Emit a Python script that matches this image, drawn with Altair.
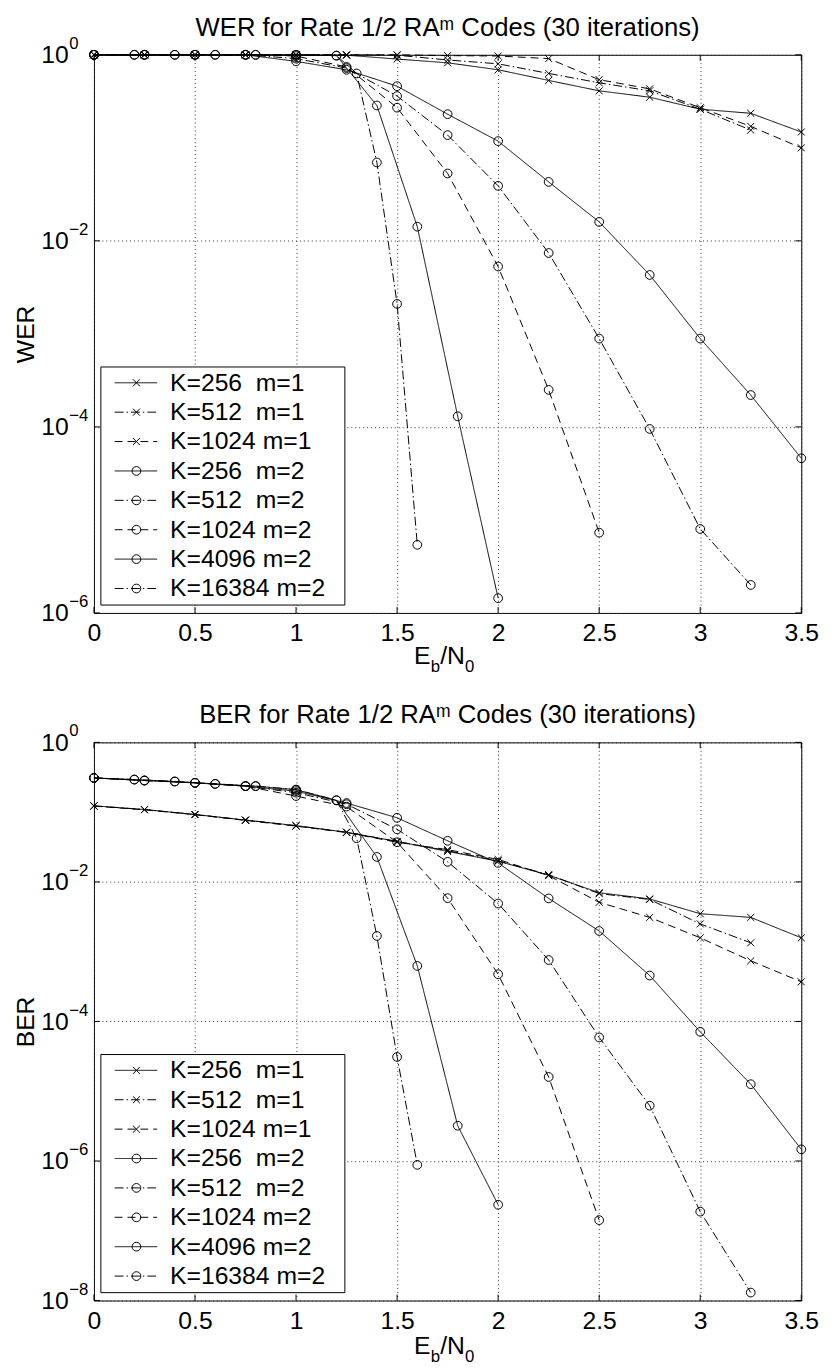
import altair as alt
import pandas as pd

FONT = "Liberation Sans"

# ---------------- data ----------------
series_labels = ["K=256\u00a0\u00a0m=1", "K=512\u00a0\u00a0m=1", "K=1024 m=1",
                 "K=256\u00a0\u00a0m=2", "K=512\u00a0\u00a0m=2", "K=1024 m=2",
                 "K=4096 m=2", "K=16384 m=2"]
series_marker = ["x", "x", "x", "o", "o", "o", "o", "o"]
series_style = ["solid", "dashdot", "dashed", "solid", "dashdot", "dashed", "solid", "dashdot"]

eb_q = [0, 0.25, 0.5, 0.75, 1.0, 1.25, 1.5, 1.75, 2.0, 2.25, 2.5, 2.75, 3.0, 3.25, 3.5]
eb_q_325 = [0, 0.25, 0.5, 0.75, 1.0, 1.25, 1.5, 1.75, 2.0, 2.25, 2.5, 2.75, 3.0, 3.25]
eb_q_25 = [0, 0.25, 0.5, 0.75, 1.0, 1.25, 1.5, 1.75, 2.0, 2.25, 2.5]
eb_fifth = [0, 0.2, 0.4, 0.6, 0.8, 1.0, 1.2, 1.4, 1.6, 1.8, 2.0]
eb_mixed = [0, 0.2, 0.4, 0.6, 0.8, 1.0, 1.2, 1.3, 1.4, 1.5, 1.6]
series_x = [eb_q, eb_q_325, eb_q, eb_q, eb_q_325, eb_q_25, eb_fifth, eb_mixed]

wer_256_m1 = [1, 1, 1, 1, 0.99, 0.99, 0.90, 0.82, 0.69, 0.53, 0.41, 0.35, 0.26, 0.235, 0.148]
wer_512_m1 = [1, 1, 1, 1, 1, 1, 0.99, 0.88, 0.80, 0.63, 0.50, 0.41, 0.26, 0.155]
wer_1024_m1 = [1, 1, 1, 1, 1, 1, 1, 0.98, 0.97, 0.91, 0.54, 0.43, 0.27, 0.17, 0.10]
wer_256_m2 = [1, 1, 1, 1, 0.85, 0.69, 0.46, 0.23, 0.118, 0.043, 0.016, 4.3e-3, 8.9e-4, 2.2e-4, 4.6e-5]
wer_512_m2 = [1, 1, 1, 1, 0.91, 0.72, 0.36, 0.137, 0.039, 7.4e-3, 8.9e-4, 9.5e-5, 8e-6, 2e-6]
wer_1024_m2 = [1, 1, 1, 1, 0.97, 0.74, 0.27, 0.053, 5.3e-3, 2.5e-4, 7.3e-6]
wer_4096_m2 = [1, 1, 1, 1, 1, 1, 0.98, 0.285, 0.0142, 1.3e-4, 1.44e-6]
wer_16384_m2 = [1, 1, 1, 1, 1, 1, 0.98, 0.63, 0.0696, 2.1e-3, 5.4e-6]

ber_256_m1 = [0.123, 0.109, 0.0925, 0.077, 0.064, 0.0515, 0.038, 0.0274, 0.0198, 0.0125,
              7.0e-3, 5.7e-3, 3.5e-3, 3.1e-3, 1.58e-3]
ber_512_m1 = [0.123, 0.109, 0.0925, 0.077, 0.064, 0.0515, 0.038, 0.028, 0.020, 0.0127,
              6.8e-3, 5.6e-3, 2.5e-3, 1.34e-3]
ber_1024_m1 = [0.122, 0.108, 0.092, 0.076, 0.063, 0.051, 0.037, 0.029, 0.021, 0.0123,
               5.1e-3, 3.1e-3, 1.58e-3, 7.4e-4, 3.7e-4]
ber_256_m2 = [0.309, 0.284, 0.263, 0.236, 0.20, 0.135, 0.083, 0.0388, 0.0187, 5.8e-3,
              1.98e-3, 4.55e-4, 7.1e-5, 1.26e-5, 1.47e-6]
ber_512_m2 = [0.309, 0.284, 0.263, 0.236, 0.19, 0.13, 0.0567, 0.0194, 4.9e-3, 7.6e-4,
              5.9e-5, 6.2e-6, 1.88e-7, 1.3e-8]
ber_1024_m2 = [0.309, 0.284, 0.263, 0.236, 0.17, 0.12, 0.037, 5.85e-3, 4.75e-4, 1.6e-5, 1.42e-7]
ber_4096_m2 = [0.309, 0.293, 0.275, 0.254, 0.236, 0.21, 0.148, 0.0228, 6.25e-4, 3.2e-6, 2.36e-7]
ber_16384_m2 = [0.309, 0.293, 0.275, 0.254, 0.236, 0.21, 0.148, 0.0423, 1.68e-3, 3.1e-5, 8.8e-7]

wer_values = [wer_256_m1, wer_512_m1, wer_1024_m1, wer_256_m2, wer_512_m2,
              wer_1024_m2, wer_4096_m2, wer_16384_m2]
ber_values = [ber_256_m1, ber_512_m1, ber_1024_m1, ber_256_m2, ber_512_m2,
              ber_1024_m2, ber_4096_m2, ber_16384_m2]

x_ticks = [0, 0.5, 1, 1.5, 2, 2.5, 3, 3.5]
wer_ticks = [1, 1e-2, 1e-4, 1e-6]
wer_exps = ["0", "\u22122", "\u22124", "\u22126"]
ber_ticks = [1, 1e-2, 1e-4, 1e-6, 1e-8]
ber_exps = ["0", "\u22122", "\u22124", "\u22126", "\u22128"]

wer_title = "WER for Rate 1/2 RA\u1d50 Codes (30 iterations)"
ber_title = "BER for Rate 1/2 RA\u1d50 Codes (30 iterations)"


def build(values_list):
    rows = []
    for lab, mk, xs, ys in zip(series_labels, series_marker, series_x, values_list):
        for x, y in zip(xs, ys):
            rows.append({"series": lab, "marker": mk, "ebn0": x, "value": y})
    return pd.DataFrame(rows)


legend_df = pd.DataFrame({"series": series_labels, "marker": series_marker,
                          "row": list(range(len(series_labels)))})

# ---------------- styles ----------------
DASHES = {"solid": [1, 0], "dashdot": [9, 3, 1.5, 3], "dashed": [8, 5]}
dash_range = [DASHES[s] for s in series_style]
PT_CROSS = "M-0.8,-0.8L0.8,0.8M-0.8,0.8L0.8,-0.8"

W, H = 716, 565
TICK = 6


def panel(values_list, ticks, exps, ymin, ytitle, title, sub_y):
    df = build(values_list)
    xenc = alt.X("ebn0:Q",
                 scale=alt.Scale(domain=[0, 3.5], nice=False, zero=False),
                 axis=alt.Axis(values=x_ticks, format="~g", title=None, grid=True,
                               gridDash=[1, 3], gridColor="#333", ticks=False,
                               domain=False, labelPadding=8, labelFontSize=25,
                               labelFlush=False, labelOverlap=False, labelColor="black",
                               labelFont=FONT))
    yenc = alt.Y("value:Q",
                 scale=alt.Scale(type="log", domain=[ymin, 1], nice=False),
                 axis=alt.Axis(values=ticks, labelExpr="'10'", title=ytitle, grid=True,
                               gridDash=[1, 3], gridColor="#333", ticks=False,
                               domain=False, labelPadding=26, labelFontSize=25,
                               labelColor="black", labelFont=FONT, titleFont=FONT,
                               titleFontSize=25, titleFontWeight="normal",
                               titleColor="black", titlePadding=2,
                               labelOverlap=False))
    dash_enc = alt.StrokeDash("series:N",
                              scale=alt.Scale(domain=series_labels, range=dash_range),
                              legend=None)
    base = alt.Chart(df)
    lines = base.mark_line(color="black", strokeWidth=1).encode(
        x=xenc, y=yenc, detail="series:N", strokeDash=dash_enc)
    circles = base.transform_filter("datum.marker == 'o'").mark_point(
        shape="circle", filled=False, color="black", strokeWidth=1, size=78,
        opacity=1).encode(x=xenc, y=yenc)
    crosses = base.transform_filter("datum.marker == 'x'").mark_point(
        shape=PT_CROSS, filled=False, color="black", strokeWidth=1, size=78,
        opacity=1).encode(x=xenc, y=yenc)
    exp_df = pd.DataFrame({"value": ticks, "exp": exps})
    exps_layer = alt.Chart(exp_df).mark_text(
        align="left", baseline="middle", fontSize=17, font=FONT, dy=-11,
        color="black").encode(x=alt.value(-25), y=yenc, text="exp:N")

    # inward tick marks on all four sides (matlab box style)
    xt_df = pd.DataFrame({"ebn0": x_ticks})
    yt_df = pd.DataFrame({"value": ticks})
    xt_bot = alt.Chart(xt_df).mark_rule(color="black", strokeWidth=1).encode(
        x=xenc, y=alt.value(H), y2=alt.value(H - TICK))
    xt_top = alt.Chart(xt_df).mark_rule(color="black", strokeWidth=1).encode(
        x=xenc, y=alt.value(0), y2=alt.value(TICK))
    yt_left = alt.Chart(yt_df).mark_rule(color="black", strokeWidth=1).encode(
        y=yenc, x=alt.value(0), x2=alt.value(TICK))
    yt_right = alt.Chart(yt_df).mark_rule(color="black", strokeWidth=1).encode(
        y=yenc, x=alt.value(W - TICK), x2=alt.value(W))

    one = pd.DataFrame({"k": [0]})

    def piece(txt, px, py, fs):
        return alt.Chart(one).mark_text(text=txt, align="left", baseline="alphabetic",
                                        fontSize=fs, font=FONT, color="black").encode(
            x=alt.value(px), y=alt.value(py))
    t1 = piece("E", 324, sub_y, 25)
    t2 = piece("b", 341, sub_y + 8, 17)
    t3 = piece("/N", 350.5, sub_y, 25)
    t4 = piece("0", 375.5, sub_y + 8, 17)

    plot = alt.layer(xt_bot, xt_top, yt_left, yt_right, lines, circles, crosses,
                     exps_layer, t1, t2, t3, t4)

    # ---- legend (rows placed through their own linear scale) ----
    row_y = alt.Y("row:Q", scale=alt.Scale(domain=[-11.16, 7.832], reverse=True, nice=False,
                                           zero=False), axis=None)
    lbase = alt.Chart(legend_df)
    box = alt.Chart(one).mark_rect(fill="white", stroke="black", strokeWidth=1).encode(
        x=alt.value(7), x2=alt.value(254), y=alt.value(316), y2=alt.value(557))
    lrules = lbase.mark_rule(color="black", strokeWidth=1).encode(
        x=alt.value(21), x2=alt.value(64), y=row_y, strokeDash=dash_enc)
    lcirc = lbase.transform_filter("datum.marker == 'o'").mark_point(
        shape="circle", filled=False, color="black", strokeWidth=1, size=78,
        opacity=1).encode(x=alt.value(43), y=row_y)
    lcross = lbase.transform_filter("datum.marker == 'x'").mark_point(
        shape=PT_CROSS, filled=False, color="black", strokeWidth=1, size=78,
        opacity=1).encode(x=alt.value(43), y=row_y)
    ltext = lbase.mark_text(align="left", baseline="middle", fontSize=25, font=FONT,
                            color="black").encode(x=alt.value(77), y=row_y, text="series:N")
    legend = alt.layer(box, lrules, lcirc, lcross, ltext)

    ch = alt.layer(plot, legend).resolve_scale(y="independent").properties(
        width=W, height=H,
        title=alt.TitleParams(title, fontSize=26, font=FONT, fontWeight="normal",
                              color="black", offset=-5.5, anchor="middle", frame="group"))
    return ch


top = panel(wer_values, wer_ticks, wer_exps, 1e-6, "WER", wer_title, 617)
bottom = panel(ber_values, ber_ticks, ber_exps, 1e-8, "BER", ber_title, 619)

chart = alt.vconcat(top, bottom, spacing=26).properties(
    padding={"left": 5, "top": -2, "right": 5, "bottom": 0}
).configure(font=FONT).configure_view(stroke="black", strokeWidth=1)

chart.save("out.html", embed_options={"renderer": "svg", "actions": False})
